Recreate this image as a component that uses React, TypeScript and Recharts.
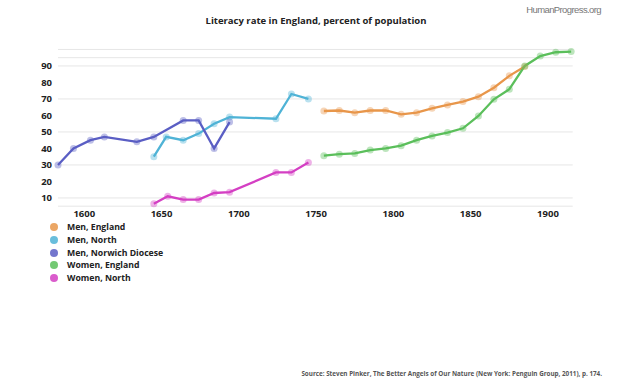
import { LineChart, Line, XAxis, YAxis, CartesianGrid, ReferenceLine } from 'recharts';

// years and literacy values
const menEnglandYears = [1755, 1765, 1775, 1785, 1795, 1805, 1815, 1825, 1835, 1845, 1855, 1865, 1875, 1885];
const menEnglandValues = [62.7, 63, 61.7, 63, 63, 60.7, 61.7, 64.3, 66.4, 68.4, 71.4, 76.8, 84, 89.6];

const menNorthYears = [1645, 1653, 1664, 1674, 1684, 1694, 1724, 1734, 1745];
const menNorthValues = [35, 47, 45, 49, 55, 59, 58, 73, 70];

const norwichYears = [1583, 1593, 1604, 1613, 1634, 1645, 1664, 1674, 1684, 1694];
const norwichValues = [30, 40, 45, 47, 44, 47, 57, 57, 40, 56];

const womenEnglandYears = [1755, 1765, 1775, 1785, 1795, 1805, 1815, 1825, 1835, 1845, 1855, 1865, 1875, 1885, 1895, 1905, 1915];
const womenEnglandValues = [35.6, 36.5, 37, 39, 40, 41.7, 45, 47.6, 49.6, 52.2, 59.7, 69.8, 75.9, 90, 96, 98.3, 98.7];

const womenNorthYears = [1645, 1654, 1664, 1674, 1684, 1694, 1724, 1734, 1745];
const womenNorthValues = [6.5, 11, 9, 9, 13, 13.5, 25.5, 25.5, 31.5];

const xTicks = [1600, 1650, 1700, 1750, 1800, 1850, 1900];
const yTicks = [10, 20, 30, 40, 50, 60, 70, 80, 90];

const toRows = (years: number[], values: number[]) => years.map((year, i) => ({ year, value: values[i] }));

const series = [
  { name: 'Men, England', color: '#e8964a', data: toRows(menEnglandYears, menEnglandValues) },
  { name: 'Men, North', color: '#4fb3d6', data: toRows(menNorthYears, menNorthValues) },
  { name: 'Men, Norwich Diocese', color: '#5a5ec4', data: toRows(norwichYears, norwichValues) },
  { name: 'Women, England', color: '#5bbf5b', data: toRows(womenEnglandYears, womenEnglandValues) },
  { name: 'Women, North', color: '#d43fc3', data: toRows(womenNorthYears, womenNorthValues) },
];

const font = '"Open Sans", "DejaVu Sans", sans-serif';
const tickStyle = { fontSize: 9.5, fontWeight: 700, fill: '#222', fontFamily: font };

export default function App() {
  return (
    <div style={{ position: 'absolute', left: 0, top: 0, width: 624, height: 386, background: '#fff', fontFamily: font }}>
      <div style={{ position: 'absolute', right: 23, top: 4, fontSize: 9.5, color: '#777', fontFamily: '"Liberation Sans", Arial, sans-serif', letterSpacing: -0.6 }}>
        HumanProgress.org
      </div>
      <div style={{ position: 'absolute', left: 0, width: 632, top: 14, textAlign: 'center', fontSize: 9.5, fontWeight: 700, color: '#222' }}>
        Literacy rate in England, percent of population
      </div>

      <LineChart width={624} height={386} margin={{ top: 49.45, right: 51.3, left: 28, bottom: 159.8 }}>
        <CartesianGrid vertical={false} stroke="#e6e6e6" />
        <XAxis
          type="number"
          dataKey="year"
          domain={[1583, 1916]}
          ticks={xTicks}
          axisLine={false}
          tickLine={false}
          tickSize={0}
          tickMargin={4}
          height={20}
          tick={tickStyle}
          allowDuplicatedCategory={false}
        />
        <YAxis
          type="number"
          domain={[5, 100]}
          ticks={yTicks}
          axisLine={false}
          tickLine={false}
          tickSize={0}
          tickMargin={6}
          width={30}
          tick={tickStyle}
        />
        <ReferenceLine y={95} stroke="#e6e6e6" />
        {series.map((s) => (
          <Line
            key={s.name}
            data={s.data}
            dataKey="value"
            name={s.name}
            stroke={s.color}
            strokeWidth={2.3}
            dot={{ r: 3.5, fill: s.color, fillOpacity: 0.4, stroke: 'none' }}
            isAnimationActive={false}
          />
        ))}
      </LineChart>

      <div style={{ position: 'absolute', left: 50, top: 221 }}>
        {series.map((s) => (
          <div key={s.name} style={{ display: 'flex', alignItems: 'center', height: 12.7 }}>
            <span style={{ width: 8, height: 8, borderRadius: 4, background: s.color, opacity: 0.85, marginRight: 9 }} />
            <span style={{ fontSize: 8.7, fontWeight: 700, color: '#222' }}>{s.name}</span>
          </div>
        ))}
      </div>

      <div style={{ position: 'absolute', right: 22, top: 369, fontSize: 6.3, fontWeight: 700, color: '#555' }}>
        Source: Steven Pinker, The Better Angels of Our Nature (New York: Penguin Group, 2011), p. 174.
      </div>
    </div>
  );
}
